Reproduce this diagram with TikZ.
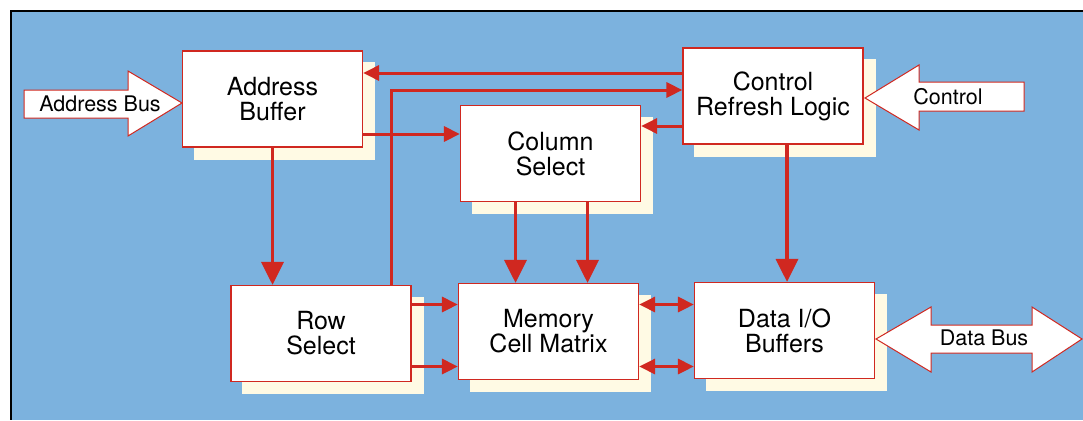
\documentclass[tikz,border=0pt]{standalone}
\usepackage{fontspec}
\setmainfont{TeX Gyre Heros}
\usetikzlibrary{arrows.meta}
\pgfdeclarelayer{background}
\pgfsetlayers{background,main}
\definecolor{panelblue}{RGB}{124,178,222}
\definecolor{wirered}{RGB}{208,40,32}
\definecolor{shadowcream}{RGB}{255,250,228}

\begin{document}
\begin{tikzpicture}[x=1pt,y=-1pt,
  unit/.style={draw=wirered, line width=1.2pt, fill=white, minimum width=180pt, minimum height=96pt, inner sep=0pt, align=center, font=\fontsize{25}{25}\selectfont},
  bus/.style={draw=wirered, line width=1pt, fill=white},
  buslabel/.style={font=\fontsize{21.5}{21.5}\selectfont, inner sep=0pt},
  link/.style={draw=wirered, line width=3pt, -{Triangle[length=16pt,width=15pt]}},
  drop/.style={draw=wirered, line width=3.5pt, -{Triangle[length=23pt,width=22pt]}},
  both/.style={draw=wirered, line width=3pt, {Triangle[length=16pt,width=15pt]}-{Triangle[length=16pt,width=15pt]}}]

\node[unit] (AB) at (272.5,99) {Address\\Buffer};
\node[unit] (CRL) at (773,96) {Control\\Refresh Logic};
\node[unit] (CS) at (550.5,153.5) {Column\\Select};
\node[unit] (RS) at (321,333.5) {Row\\Select};
\node[unit] (MCM) at (548.5,331.5) {Memory\\Cell Matrix};
\node[unit] (DIO) at (784.5,330.5) {Data I/O\\Buffers};

\begin{pgfonlayer}{background}
\fill[white] (0,0) rectangle (1083,420);
\fill[panelblue] (11,11) rectangle (1083,420);
\draw[line width=2pt] (1083,11) -- (11,11) -- (11,420);
\foreach \n in {AB,CRL,CS,RS,MCM,DIO}
  \fill[shadowcream] ([shift={(12,12)}]\n.south west) rectangle ([shift={(12,12)}]\n.north east);
\end{pgfonlayer}

% bus arrows
\draw[bus] (24,90) -- (128,90) -- (128,71) -- (182,103) -- (128,136) -- (128,118) -- (24,118) -- cycle;
\node[buslabel] (addrbus) at (100,104) {Address Bus};

\draw[bus] (1024,82) -- (919,82) -- (919,65) -- (865,98) -- (919,130) -- (919,111) -- (1024,111) -- cycle;
\node[buslabel] (ctlin) at (948,97) {Control};

\draw[bus] (876,339) -- (931,307) -- (931,325) -- (1032,325) -- (1032,307) -- (1082,339) -- (1032,372) -- (1032,353) -- (931,353) -- (931,372) -- cycle;
\node[buslabel] (databus) at (984,338) {Data Bus};

% connectors
\draw[link] ([yshift=23pt]CRL.west) -- ([yshift=23pt]CRL.west -| AB.east);
\draw[link] ([xshift=70pt]RS.north) |- ([yshift=6pt]CRL.west);
\draw[link] ([yshift=-30pt]CRL.west) -- ([yshift=-30pt]CRL.west -| CS.east);
\draw[link] ([yshift=-35pt]AB.east) -- ([yshift=-35pt]AB.east -| CS.west);

\draw[drop] (AB.south) -- (AB.south |- RS.north);
\draw[drop] ([xshift=-35pt]CS.south) -- ([xshift=-35pt]CS.south |- MCM.north);
\draw[drop] ([xshift=37pt]CS.south) -- ([xshift=37pt]CS.south |- MCM.north);
\draw[drop] ([xshift=14pt]CRL.south) -- ([xshift=14pt]CRL.south |- DIO.north);

\draw[link] ([yshift=29pt]RS.east) -- ([yshift=29pt]RS.east -| MCM.west);
\draw[link] ([yshift=-33pt]RS.east) -- ([yshift=-33pt]RS.east -| MCM.west);
\draw[both] ([yshift=27pt]MCM.east) -- ([yshift=27pt]MCM.east -| DIO.west);
\draw[both] ([yshift=-35pt]MCM.east) -- ([yshift=-35pt]MCM.east -| DIO.west);

\pgfresetboundingbox
\useasboundingbox (0,0) rectangle (1083,420);
\end{tikzpicture}
\end{document}
